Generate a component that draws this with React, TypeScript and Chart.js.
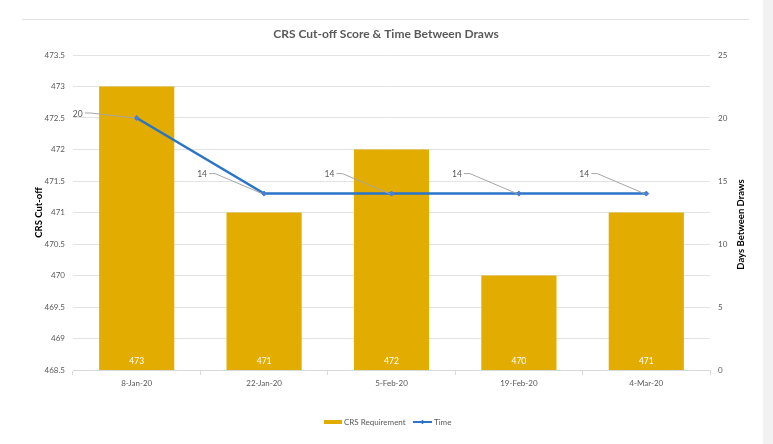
import React, { useEffect, useRef } from "react";
import { Chart, registerables } from "chart.js";

Chart.register(...registerables);

const categories = ["8-Jan-20", "22-Jan-20", "5-Feb-20", "19-Feb-20", "4-Mar-20"];
const crsRequirement = [473, 471, 472, 470, 471];
const daysBetweenDraws = [20, 14, 14, 14, 14];

const chartTitle = "CRS Cut-off Score & Time Between Draws";
const leftAxisTitle = "CRS Cut-off";
const rightAxisTitle = "Days Between Draws";
const seriesNames = ["CRS Requirement", "Time"];

const FONT = "Lato, 'Open Sans', sans-serif";
const BAR_COLOR = "#E2AC00";
const LINE_COLOR = "#2A74C9";
const TEXT_COLOR = "#595959";

const overlayPlugin = {
  id: "overlay",
  afterDatasetsDraw(chart: any) {
    const ctx = chart.ctx as CanvasRenderingContext2D;
    const area = chart.chartArea;
    ctx.save();

    // bar value labels
    const barMeta = chart.getDatasetMeta(0);
    ctx.font = `8.5px ${FONT}`;
    ctx.fillStyle = "#ffffff";
    ctx.textAlign = "center";
    ctx.textBaseline = "middle";
    barMeta.data.forEach((bar: any, i: number) => {
      ctx.fillText(String(crsRequirement[i]), bar.x, area.bottom - 9);
    });

    // line labels with leader lines
    const lineMeta = chart.getDatasetMeta(1);
    lineMeta.data.forEach((pt: any, i: number) => {
      const off = i === 0 ? { dx: -59, dy: -4 } : { dx: -62, dy: -19 };
      const lx = pt.x + off.dx;
      const ly = pt.y + off.dy;
      ctx.strokeStyle = "#a6a6a6";
      ctx.lineWidth = 1;
      ctx.beginPath();
      ctx.moveTo(lx + 7, ly - 1);
      ctx.lineTo(lx + 13, ly - 1);
      ctx.lineTo(pt.x - 2, pt.y);
      ctx.stroke();
      ctx.fillStyle = TEXT_COLOR;
      ctx.font = `8.5px ${FONT}`;
      ctx.textAlign = "center";
      ctx.textBaseline = "middle";
      ctx.fillText(String(daysBetweenDraws[i]), lx, ly);
    });
    ctx.restore();
  },
  afterDraw(chart: any) {
    const ctx = chart.ctx as CanvasRenderingContext2D;
    const area = chart.chartArea;
    ctx.save();

    // chart title
    ctx.fillStyle = TEXT_COLOR;
    ctx.font = `bold 12px ${FONT}`;
    ctx.textAlign = "center";
    ctx.textBaseline = "middle";
    ctx.fillText(chartTitle, 386, 34);

    // left axis title
    const cy = (area.top + area.bottom) / 2;
    ctx.fillStyle = "#000000";
    ctx.font = `bold 9.5px ${FONT}`;
    ctx.save();
    ctx.translate(39, cy);
    ctx.rotate(-Math.PI / 2);
    ctx.fillText(leftAxisTitle, 0, 0);
    ctx.restore();

    // right axis title
    ctx.save();
    ctx.translate(741, cy + 12);
    ctx.rotate(-Math.PI / 2);
    ctx.fillText(rightAxisTitle, 0, 0);
    ctx.restore();

    // legend
    const ly = 422;
    ctx.fillStyle = BAR_COLOR;
    ctx.fillRect(324, ly - 2, 18, 4);
    ctx.fillStyle = TEXT_COLOR;
    ctx.font = `8px ${FONT}`;
    ctx.textAlign = "left";
    ctx.fillText(seriesNames[0], 344, ly);
    ctx.strokeStyle = LINE_COLOR;
    ctx.lineWidth = 2;
    ctx.beginPath();
    ctx.moveTo(413, ly);
    ctx.lineTo(432, ly);
    ctx.stroke();
    ctx.fillStyle = LINE_COLOR;
    ctx.beginPath();
    ctx.moveTo(422.5, ly - 2.2);
    ctx.lineTo(424.7, ly);
    ctx.lineTo(422.5, ly + 2.2);
    ctx.lineTo(420.3, ly);
    ctx.closePath();
    ctx.fill();
    ctx.fillStyle = TEXT_COLOR;
    ctx.fillText(seriesNames[1], 434, ly);

    ctx.restore();
  },
};

export default function App() {
  const canvasRef = useRef<HTMLCanvasElement | null>(null);

  useEffect(() => {
    if (!canvasRef.current) return;
    const chart = new Chart(canvasRef.current, {
      type: "bar",
      data: {
        labels: categories,
        datasets: [
          {
            type: "bar",
            label: seriesNames[0],
            data: crsRequirement,
            backgroundColor: BAR_COLOR,
            borderWidth: 0,
            yAxisID: "y",
            barPercentage: 1,
            categoryPercentage: 0.59,
            order: 2,
          },
          {
            type: "line",
            label: seriesNames[1],
            data: daysBetweenDraws,
            borderColor: LINE_COLOR,
            backgroundColor: LINE_COLOR,
            borderWidth: 2.5,
            pointStyle: "rectRot",
            pointRadius: 2.5,
            pointBackgroundColor: "#4a7fd0",
            pointBorderColor: "#4a7fd0",
            pointBorderWidth: 1,
            tension: 0,
            yAxisID: "y1",
            order: 1,
          },
        ],
      },
      options: {
        responsive: false,
        animation: false,
        layout: { padding: { top: 55, bottom: 0, left: 0, right: 0 } },
        plugins: {
          legend: { display: false },
          title: { display: false },
          tooltip: { enabled: false },
        },
        scales: {
          x: {
            offset: true,
            grid: {
              display: true,
              offset: true,
              drawOnChartArea: false,
              drawTicks: true,
              tickLength: 5,
              color: "#d9d9d9",
            },
            border: { display: true, color: "#d9d9d9" },
            ticks: {
              color: TEXT_COLOR,
              font: { family: FONT, size: 8 },
              padding: 4,
              maxRotation: 0,
            },
            afterFit(scale: any) {
              scale.height = 74;
            },
          },
          y: {
            position: "left",
            min: 468.5,
            max: 473.5,
            grid: { color: "#e3e3e3", drawTicks: false },
            border: { display: false },
            ticks: {
              stepSize: 0.5,
              color: TEXT_COLOR,
              font: { family: FONT, size: 8 },
              padding: 8,
              callback: (v: any) => String(Number(v)),
            },
            afterFit(scale: any) {
              scale.width = 73;
            },
          },
          y1: {
            position: "right",
            min: 0,
            max: 25,
            grid: { display: false, drawTicks: false },
            border: { display: false },
            ticks: {
              stepSize: 5,
              color: TEXT_COLOR,
              font: { family: FONT, size: 8 },
              padding: 8,
              callback: (v: any) => String(Number(v)),
            },
            afterFit(scale: any) {
              scale.width = 63;
            },
          },
        },
      },
      plugins: [overlayPlugin],
    });
    return () => chart.destroy();
  }, []);

  return (
    <div
      style={{
        position: "fixed",
        left: 0,
        top: 0,
        width: 773,
        height: 444,
        background: "#ffffff",
        overflow: "hidden",
      }}
    >
      <div
        style={{
          position: "absolute",
          left: 22,
          top: 19,
          width: 727,
          height: 1,
          background: "#e2e2e2",
        }}
      />
      <div
        style={{
          position: "absolute",
          left: 763,
          top: 0,
          width: 10,
          height: 444,
          background: "#f2f2f2",
        }}
      />
      <canvas
        ref={canvasRef}
        width={773}
        height={444}
        style={{ position: "absolute", left: 0, top: 0, width: 773, height: 444 }}
      />
    </div>
  );
}
